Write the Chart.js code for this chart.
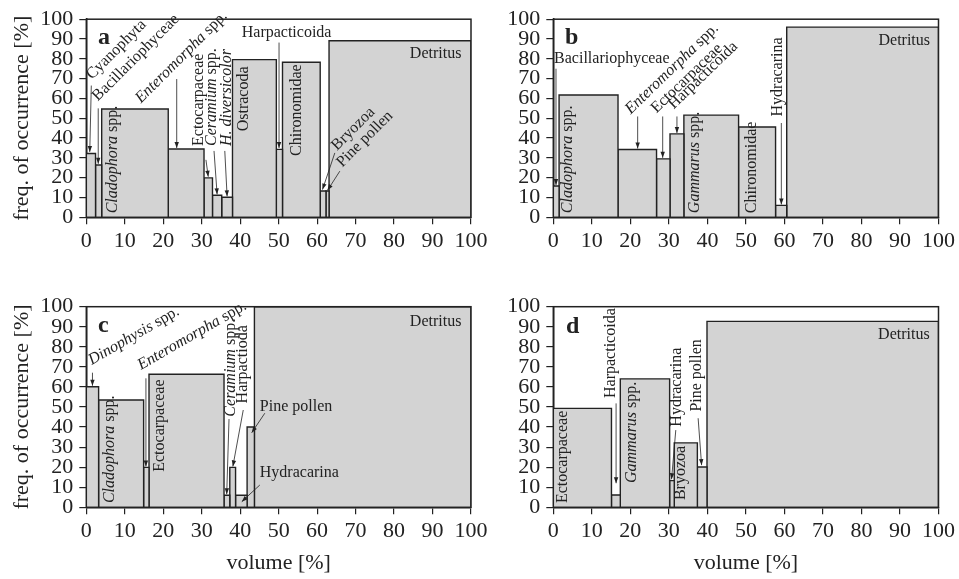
<!DOCTYPE html>
<html>
<head>
<meta charset="utf-8">
<script src="https://cdn.jsdelivr.net/npm/chart.js@4.4.0/dist/chart.umd.min.js"></script>
<style>
  html, body { margin: 0; padding: 0; background: #fff; }
  body { width: 959px; height: 579px; position: relative; overflow: hidden; }
  canvas { position: absolute; }
</style>
</head>
<body>
<canvas id="chartA" width="495" height="270" style="left:0;top:0"></canvas>
<canvas id="chartB" width="479" height="270" style="left:480px;top:0"></canvas>
<canvas id="chartC" width="495" height="309" style="left:0;top:270px"></canvas>
<canvas id="chartD" width="479" height="309" style="left:480px;top:270px"></canvas>
<script>
const axisTicks = [0, 10, 20, 30, 40, 50, 60, 70, 80, 90, 100];

// a
const taxaA = ['Cyanophyta', 'Bacillariophyceae', 'Cladophora spp.', 'Enteromorpha spp.', 'Ectocarpaceae', 'Ceramium spp.', 'H. diversicolor', 'Ostracoda', 'Harpacticoida', 'Chironomidae', 'Bryozoa', 'Pine pollen', 'Detritus'];
const volumeA = [2.4, 1.6, 17.3, 9.3, 2.2, 2.4, 2.8, 11.4, 1.6, 9.8, 1.5, 0.8, 36.9];
const freqA = [32.2, 26.4, 54.7, 34.5, 19.9, 11.1, 10.1, 79.6, 34.3, 78.3, 13.3, 13.3, 89.1];

// b
const taxaB = ['Bacillariophyceae', 'Cladophora spp.', 'Enteromorpha spp.', 'Ectocarpaceae', 'Harpacticoida', 'Gammarus spp.', 'Chironomidae', 'Hydracarina', 'Detritus'];
const volumeB = [1.5, 15.3, 10.0, 3.5, 3.6, 14.2, 9.6, 2.9, 39.4];
const freqB = [15.8, 61.7, 34.2, 29.5, 42.1, 51.6, 45.6, 6.0, 96.0];

// c
const taxaC = ['Dinophysis spp.', 'Cladophora spp.', 'Enteromorpha spp.', 'Ectocarpaceae', 'Ceramium spp.', 'Harpactioda', 'Hydracarina', 'Pine pollen', 'Detritus'];
const volumeC = [3.2, 11.7, 1.4, 19.5, 1.5, 1.5, 3.0, 1.9, 56.3];
const freqC = [60.1, 53.5, 19.9, 66.3, 6.0, 19.9, 6.0, 40.0, 100];

// d
const taxaD = ['Ectocarpaceae', 'Harpacticoida', 'Gammarus spp.', 'Hydracarina', 'Bryozoa', 'Pine pollen', 'Detritus'];
const volumeD = [15.1, 2.3, 12.8, 1.2, 6.0, 2.5, 60.1];
const freqD = [49.3, 6.1, 64.0, 13.3, 32.1, 20.1, 92.7];

const SERIF = '"Liberation Serif", "Times New Roman", serif';
const INK = '#222';
const FILL = '#d3d3d3';

// label placement, in axis units ('*' marks italic parts)
const notesA = [
  { t: 'Cyanophyta', x: 1.5, y: 69.3, r: -45, a: [1.3, 66.5, 0.9, 33] },
  { t: 'Bacillariophyceae', x: 3.0, y: 58.4, r: -45, a: [3.1, 55, 3.1, 27] },
  { t: '*Cladophora* spp.', x: 8.0, y: 2.0, r: -90 },
  { t: '*Enteromorpha* spp.', x: 14.2, y: 57.4, r: -45, a: [23.5, 69.8, 23.5, 35] },
  { t: 'Ectocarpaceae', x: 30.3, y: 36, r: -90, a: [31.1, 29, 31.7, 20.5] },
  { t: '*Ceramium* spp.', x: 33.7, y: 36, r: -90, a: [33.2, 33.5, 34.0, 11.6] },
  { t: '*H. diversicolor*', x: 37.6, y: 36, r: -90, a: [36.0, 33.5, 36.6, 10.6] },
  { t: 'Ostracoda', x: 42.0, y: 43.4, r: -90 },
  { t: 'Harpacticoida', x: 40.4, y: 91, r: 0, a: [50.1, 88.2, 50.1, 35] },
  { t: 'Chironomidae', x: 55.8, y: 31, r: -90 },
  { t: 'Bryozoa', x: 65.2, y: 33.5, r: -45, a: [64.6, 32.5, 61.4, 14] },
  { t: 'Pine pollen', x: 66.5, y: 25, r: -45, a: [65.9, 23.3, 62.7, 13.6] },
  { t: 'Detritus', x: 97.5, y: 80.4, r: 0, right: true }
];
const notesB = [
  { t: 'Bacillariophyceae', x: 0.2, y: 77.8, r: 0, a: [0.7, 75, 0.7, 16.3] },
  { t: '*Cladophora* spp.', x: 4.8, y: 2.1, r: -90 },
  { t: '*Enteromorpha* spp.', x: 20.1, y: 51.9, r: -44, a: [21.9, 50.9, 21.9, 34.7] },
  { t: 'Ectocarpaceae', x: 26.8, y: 52.4, r: -44, a: [28.4, 50.9, 28.4, 30] },
  { t: 'Harpacticoida', x: 31.3, y: 54.4, r: -44, a: [32.1, 50.9, 32.1, 42.6] },
  { t: '*Gammarus* spp.', x: 37.8, y: 2.1, r: -90 },
  { t: 'Chironomidae', x: 52.6, y: 2.1, r: -90 },
  { t: 'Hydracarina', x: 59.3, y: 50.9, r: -90, a: [59.2, 47.6, 59.2, 6.5] },
  { t: 'Detritus', x: 97.8, y: 86.9, r: 0, right: true }
];
const notesC = [
  { t: '*Dinophysis* spp.', x: 1.4, y: 70.9, r: -30, a: [1.6, 67.1, 1.6, 60.6] },
  { t: '*Cladophora* spp.', x: 7.2, y: 2.1, r: -90 },
  { t: '*Enteromorpha* spp.', x: 14.2, y: 68.4, r: -30, a: [15.5, 64.3, 15.5, 20.4] },
  { t: 'Ectocarpaceae', x: 20.2, y: 17.7, r: -90 },
  { t: '*Ceramium* spp.', x: 38.7, y: 45.2, r: -90, a: [37.1, 44, 36.5, 6.5] },
  { t: 'Harpactioda', x: 41.9, y: 51.8, r: -90, a: [40.8, 48.5, 38.1, 20.4] },
  { t: 'Pine pollen', x: 45.1, y: 48, r: 0, a: [46.4, 46.9, 43.0, 37.2] },
  { t: 'Hydracarina', x: 45.1, y: 15.3, r: 0, a: [45.1, 11.1, 40.4, 2.8] },
  { t: 'Detritus', x: 97.5, y: 90.4, r: 0, right: true }
];
const notesD = [
  { t: 'Ectocarpaceae', x: 3.55, y: 2.1, r: -90 },
  { t: 'Harpacticoida', x: 16.1, y: 54.5, r: -90, a: [16.3, 51.8, 16.3, 12] },
  { t: '*Gammarus* spp.', x: 21.5, y: 12.1, r: -90 },
  { t: 'Hydracarina', x: 33.1, y: 40.2, r: -90, a: [31.8, 38.5, 30.7, 14] },
  { t: 'Bryozoa', x: 34.3, y: 3.6, r: -90 },
  { t: 'Pine pollen', x: 38.3, y: 47.7, r: -90, a: [37.6, 44.4, 38.5, 21] },
  { t: 'Detritus', x: 97.7, y: 83.7, r: 0, right: true }
];

function barDatasets(taxa, vol, freq) {
  let start = 0;
  return vol.map((w, i) => {
    const end = start + w;
    const ds = {
      label: taxa[i],
      data: [{x: start, y: 0}, {x: start, y: freq[i]}, {x: end, y: freq[i]}, {x: end, y: 0}],
      showLine: true,
      fill: 'origin',
      backgroundColor: FILL,
      borderColor: INK,
      borderWidth: 1.4,
      pointRadius: 0,
      tension: 0
    };
    start = end;
    return ds;
  });
}

function drawArrow(ctx, x1, y1, x2, y2) {
  ctx.beginPath();
  ctx.moveTo(x1, y1);
  ctx.lineTo(x2, y2);
  ctx.lineWidth = 0.8;
  ctx.stroke();
  const ang = Math.atan2(y2 - y1, x2 - x1), L = 6, H = 2.2;
  ctx.beginPath();
  ctx.moveTo(x2, y2);
  ctx.lineTo(x2 - L * Math.cos(ang) + H * Math.sin(ang), y2 - L * Math.sin(ang) - H * Math.cos(ang));
  ctx.lineTo(x2 - L * Math.cos(ang) - H * Math.sin(ang), y2 - L * Math.sin(ang) + H * Math.cos(ang));
  ctx.closePath();
  ctx.fill();
}

function notesPlugin(letter, letterAt, notes) {
  return {
    id: 'notes',
    afterDatasetsDraw(chart) {
      const ctx = chart.ctx;
      const xs = chart.scales.x, ys = chart.scales.y, area = chart.chartArea;
      ctx.save();
      ctx.strokeStyle = INK;
      ctx.fillStyle = INK;
      ctx.lineWidth = 1.5;
      ctx.strokeRect(area.left, area.top, area.right - area.left, area.bottom - area.top);

      ctx.font = 'bold 24px ' + SERIF;
      ctx.textAlign = 'center';
      ctx.textBaseline = 'alphabetic';
      ctx.fillText(letter, xs.getPixelForValue(letterAt[0]), ys.getPixelForValue(letterAt[1]));

      ctx.textAlign = 'left';
      notes.forEach(n => {
        const parts = n.t.split('*');
        const fontOf = i => (i % 2 ? 'italic ' : '') + '16px ' + SERIF;
        let w = 0;
        parts.forEach((p, i) => { ctx.font = fontOf(i); w += ctx.measureText(p).width; });
        ctx.save();
        ctx.translate(xs.getPixelForValue(n.x), ys.getPixelForValue(n.y));
        ctx.rotate(n.r * Math.PI / 180);
        let cx = n.right ? -w : 0;
        parts.forEach((p, i) => {
          ctx.font = fontOf(i);
          ctx.fillText(p, cx, 0);
          cx += ctx.measureText(p).width;
        });
        ctx.restore();
        if (n.a) {
          drawArrow(ctx, xs.getPixelForValue(n.a[0]), ys.getPixelForValue(n.a[1]),
                         xs.getPixelForValue(n.a[2]), ys.getPixelForValue(n.a[3]));
        }
      });
      ctx.restore();
    }
  };
}

function makeChart(id, o) {
  const tickFont = { family: SERIF, size: 22 };
  return new Chart(document.getElementById(id), {
    type: 'scatter',
    data: { datasets: barDatasets(o.taxa, o.vol, o.freq) },
    options: {
      responsive: false,
      animation: false,
      events: [],
      layout: { padding: o.pad },
      plugins: { legend: { display: false }, tooltip: { enabled: false } },
      scales: {
        x: {
          type: 'linear', min: 0, max: 100,
          afterBuildTicks: s => { s.ticks = axisTicks.map(v => ({ value: v })); },
          afterFit: s => { s.height = o.xh; },
          ticks: { autoSkip: false, maxRotation: 0, padding: 4, color: INK, font: tickFont },
          grid: { drawOnChartArea: false, tickLength: 7, color: INK, lineWidth: 1.2 },
          border: { color: INK, width: 1.5 },
          title: { display: !!o.xTitle, text: o.xTitle || '', color: INK, font: tickFont, padding: { top: 0, bottom: 3 } }
        },
        y: {
          type: 'linear', min: 0, max: 100,
          afterBuildTicks: s => { s.ticks = axisTicks.map(v => ({ value: v })); },
          afterFit: s => { s.width = o.yw; },
          ticks: { autoSkip: false, padding: 6, color: INK, font: tickFont },
          grid: { drawOnChartArea: false, tickLength: 7, color: INK, lineWidth: 1.2 },
          border: { color: INK, width: 1.5 },
          title: { display: !!o.yTitle, text: o.yTitle || '', color: INK, font: tickFont, padding: { top: 9, bottom: 0 } }
        }
      }
    },
    plugins: [notesPlugin(o.letter, o.letterAt, o.notes)]
  });
}

makeChart('chartA', {
  taxa: taxaA, vol: volumeA, freq: freqA, notes: notesA, letter: 'a', letterAt: [4.6, 87.4],
  pad: { left: 0, top: 16.3, right: 24, bottom: 0 }, xh: 52.7, yw: 86.3,
  yTitle: 'freq. of occurrence [%]'
});
makeChart('chartB', {
  taxa: taxaB, vol: volumeB, freq: freqB, notes: notesB, letter: 'b', letterAt: [4.8, 87.4],
  pad: { left: 0, top: 16.3, right: 20, bottom: 0 }, xh: 52.7, yw: 73.3
});
makeChart('chartC', {
  taxa: taxaC, vol: volumeC, freq: freqC, notes: notesC, letter: 'c', letterAt: [4.4, 87.5],
  pad: { left: 0, top: 36.7, right: 24, bottom: 0 }, xh: 71.7, yw: 86.3,
  yTitle: 'freq. of occurrence [%]', xTitle: 'volume [%]'
});
makeChart('chartD', {
  taxa: taxaD, vol: volumeD, freq: freqD, notes: notesD, letter: 'd', letterAt: [5.0, 87],
  pad: { left: 0, top: 36.7, right: 20, bottom: 0 }, xh: 71.7, yw: 73.3,
  xTitle: 'volume [%]'
});
</script>
</body>
</html>
